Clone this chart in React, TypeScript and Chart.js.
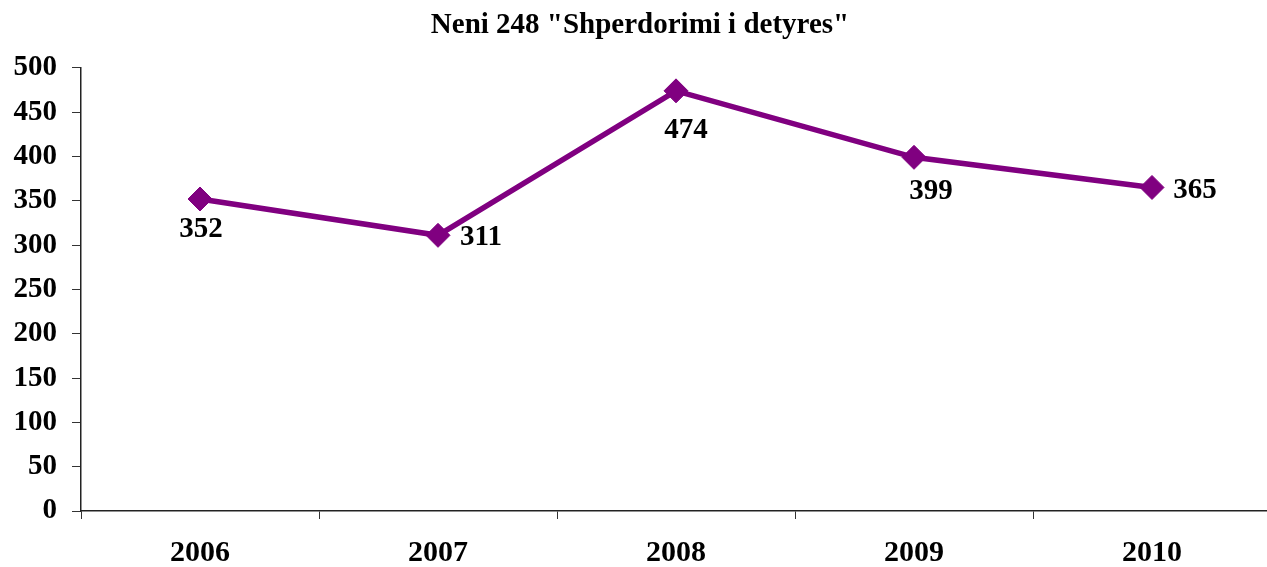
import React, { useEffect, useRef } from "react";
import { Chart, registerables } from "chart.js";

Chart.register(...registerables);

const TITLE = 'Neni 248 "Shperdorimi i detyres"';
const categories = ["2006", "2007", "2008", "2009", "2010"];
const values = [352, 311, 474, 399, 365];
const yTicks = [0, 50, 100, 150, 200, 250, 300, 350, 400, 450, 500];

// label offsets from point (style only)
const labelOffsets: [number, number][] = [
  [1, 31],
  [43, 2],
  [10, 40],
  [17, 34],
  [43, 3],
];

const FONT = "'Liberation Serif', 'Times New Roman', serif";
const PURPLE = "#800080";

const dataLabelPlugin = {
  id: "dataLabels",
  afterDatasetsDraw(chart: any) {
    const ctx = chart.ctx;
    const meta = chart.getDatasetMeta(0);
    ctx.save();
    ctx.font = `bold 29px ${FONT}`;
    ctx.fillStyle = "#000";
    ctx.textAlign = "center";
    ctx.textBaseline = "middle";
    meta.data.forEach((pt: any, i: number) => {
      const [dx, dy] = labelOffsets[i];
      ctx.fillText(String(values[i]), pt.x + dx, pt.y + dy);
    });
    ctx.restore();
  },
};

export default function App() {
  const ref = useRef<HTMLCanvasElement>(null);
  useEffect(() => {
    document.body.style.margin = "0";
    const chart = new Chart(ref.current!, {
      type: "line",
      data: {
        labels: categories,
        datasets: [
          {
            data: values,
            borderColor: PURPLE,
            backgroundColor: PURPLE,
            borderWidth: 5.5,
            pointStyle: "rectRot",
            pointRadius: 12,
            pointBorderWidth: 1,
            pointBackgroundColor: PURPLE,
            pointBorderColor: PURPLE,
            tension: 0,
          },
        ],
      },
      options: {
        responsive: false,
        animation: false,
        devicePixelRatio: 1,
        layout: { padding: { left: 0, right: 4, top: 0, bottom: 0 } },
        plugins: {
          legend: { display: false },
          tooltip: { enabled: false },
          title: {
            display: true,
            text: TITLE,
            color: "#000",
            font: { family: FONT, size: 29, weight: "bold" },
            padding: { top: 8, bottom: 25 },
          },
        },
        scales: {
          x: {
            type: "category",
            offset: true,
            grid: {
              offset: true,
              drawOnChartArea: false,
              drawTicks: true,
              tickLength: 8,
              color: "#333",
            },
            border: { display: true, color: "#222", width: 1.5 },
            ticks: {
              color: "#000",
              padding: 16,
              font: { family: FONT, size: 30, weight: "bold" },
            },
            afterFit: (scale: any) => {
              scale.height = 56;
            },
          },
          y: {
            min: 0,
            max: 500,
            afterBuildTicks: (scale: any) => {
              scale.ticks = yTicks.map((v) => ({ value: v }));
            },
            grid: {
              drawOnChartArea: false,
              drawTicks: true,
              tickLength: 9,
              color: "#333",
            },
            border: { display: true, color: "#222", width: 1.5 },
            ticks: {
              color: "#000",
              padding: 15,
              font: { family: FONT, size: 29, weight: "bold" },
            },
            afterFit: (scale: any) => {
              scale.width = 81;
            },
          },
        },
      },
      plugins: [dataLabelPlugin],
    });
    return () => chart.destroy();
  }, []);
  return (
    <div style={{ width: 1267, height: 567, overflow: "hidden" }}>
      <canvas ref={ref} width={1284} height={567} style={{ display: "block" }} />
    </div>
  );
}
